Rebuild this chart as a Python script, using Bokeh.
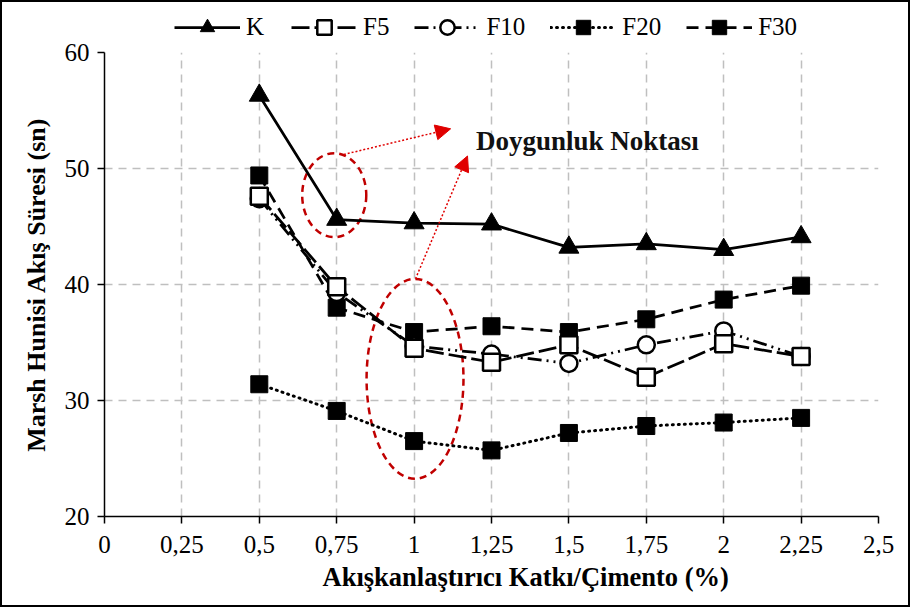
from bokeh.plotting import figure
from bokeh.layouts import column
from bokeh.models import Legend, LegendItem, FixedTicker, Arrow, NormalHead, Range1d, Label, Title
from bokeh.embed import file_html
from bokeh.resources import INLINE

# ---- data ----
x_vals = [0.5, 0.75, 1.0, 1.25, 1.5, 1.75, 2.0, 2.25]
K_vals = [56.3, 45.6, 45.3, 45.2, 43.2, 43.5, 43.0, 44.1]
F5_vals = [47.6, 39.8, 34.5, 33.3, 34.8, 32.0, 34.9, 33.8]
F10_vals = [47.4, 39.3, 34.7, 34.0, 33.2, 34.8, 36.0, 33.8]
F20_vals = [31.4, 29.1, 26.5, 25.7, 27.2, 27.8, 28.1, 28.5]
F30_vals = [49.4, 38.0, 35.9, 36.4, 35.9, 37.0, 38.7, 39.9]

x_ticks = [0, 0.25, 0.5, 0.75, 1, 1.25, 1.5, 1.75, 2, 2.25, 2.5]
x_tick_labels = ["0", "0,25", "0,5", "0,75", "1", "1,25", "1,5", "1,75", "2", "2,25", "2,5"]
y_ticks = [20, 30, 40, 50, 60]

x_title = "Akışkanlaştırıcı Katkı/Çimento (%)"
y_title = "Marsh Hunisi Akış Süresi (sn)"
note_text = "Doygunluk Noktası"

# annotation shapes (data coords)
ell_x = [0.742, 1.003]
ell_y = [47.7, 31.87]
ell_w = [0.207, 0.313]
ell_h = [7.24, 17.24]
arrows = [((0.773, 51.21), (1.118, 53.42)), ((1.0045, 40.49), (1.1725, 51.08))]

FONT = "Liberation Serif"
RED = "#C00000"

series = [
    ("F20", F20_vals, dict(line_width=3, line_dash="1 5", line_cap="round"),
     dict(marker="square", size=17, fill_color="black", line_color="black")),
    ("F30", F30_vals, dict(line_width=2.75, line_dash="12 7"),
     dict(marker="square", size=17, fill_color="black", line_color="black")),
    ("F10", F10_vals, dict(line_width=2.75, line_dash="14 5 2 5 2 5"),
     dict(marker="circle", size=17, fill_color="white", line_color="black", line_width=2.5)),
    ("F5", F5_vals, dict(line_width=2.75, line_dash="18 5"),
     dict(marker="square", size=17, fill_color="white", line_color="black", line_width=2.5)),
    ("K", K_vals, dict(line_width=2.75),
     dict(marker="triangle", size=20, fill_color="black", line_color="black")),
]
legend_order = ["K", "F5", "F10", "F20", "F30"]

# ---------------- main plot ----------------
p = figure(frame_width=774, frame_height=464, output_backend="svg", toolbar_location=None,
           x_range=Range1d(0, 2.5), y_range=Range1d(20, 60),
           min_border_left=102, min_border_right=30, min_border_top=13, min_border_bottom=89)
p.outline_line_color = None
p.background_fill_color = "white"
p.border_fill_color = "white"

p.xaxis.ticker = FixedTicker(ticks=x_ticks)
p.xaxis.major_label_overrides = {t: l for t, l in zip(x_ticks, x_tick_labels)}
p.yaxis.ticker = FixedTicker(ticks=y_ticks)
for ax in (p.xaxis[0], p.yaxis[0]):
    ax.axis_line_color = "black"
    ax.axis_line_width = 1.5
    ax.major_tick_line_color = "black"
    ax.major_tick_line_width = 1.5
    ax.major_tick_out = 7
    ax.major_tick_in = 0
    ax.minor_tick_line_color = None
    ax.major_label_text_font = FONT
    ax.major_label_text_font_size = "25px"
    ax.major_label_text_color = "black"
    ax.axis_label_text_font = FONT
    ax.axis_label_text_font_style = "bold"
    ax.axis_label_text_color = "black"
p.xaxis.major_label_standoff = 12
p.yaxis.axis_label = y_title
p.yaxis.axis_label_text_font_size = "26px"
p.yaxis.major_label_standoff = 8
p.yaxis.axis_label_standoff = 11

p.add_layout(Title(text=x_title, align="left", offset=218, text_font=FONT,
                   text_font_style="bold", text_font_size="26.5px", text_color="black",
                   standoff=8), "below")

for g in (p.xgrid[0], p.ygrid[0]):
    g.grid_line_color = "#BFBFBF"
    g.grid_line_dash = "8 6"
    g.grid_line_width = 1.5

p.ellipse(x=ell_x, y=ell_y, width=ell_w, height=ell_h, fill_color=None,
          line_color=RED, line_width=2.5, line_dash="7 5")
for (xs, ys), (xe, ye) in arrows:
    p.add_layout(Arrow(end=NormalHead(size=15, fill_color="#E00000", line_color="#E00000"),
                       x_start=xs, y_start=ys, x_end=xe, y_end=ye,
                       line_color="#E00000", line_width=1.5, line_dash="2 2"))
p.add_layout(Label(x=1.20, y=52.41, text=note_text, text_font=FONT, text_font_style="bold",
                   text_font_size="27px", text_color="#111111", text_baseline="alphabetic"))

for name, vals, lkw, mkw in series:
    p.line(x_vals, vals, line_color="black", **lkw)
    p.scatter(x_vals, vals, **mkw)

# ---------------- legend strip (series drawn out of its view; only the key shows) ----------------
leg = figure(width=906, height=37, output_backend="svg", toolbar_location=None,
             min_border=0, x_axis_location=None, y_axis_location=None,
             x_range=Range1d(100, 101), y_range=Range1d(100, 101))
leg.grid.visible = False
leg.outline_line_color = None
leg.background_fill_color = "white"
leg.border_fill_color = "white"

items = {}
for name, vals, lkw, mkw in series:
    lr = leg.line(x_vals, vals, line_color="black", **lkw)
    sr = leg.scatter(x_vals, vals, **mkw)
    items[name] = LegendItem(label=name, renderers=[lr, sr])

legend = Legend(items=[items[n] for n in legend_order], orientation="horizontal",
                location=(70, -6),
                label_text_font=FONT, label_text_font_size="25px", label_text_color="black",
                glyph_width=66, glyph_height=36, label_standoff=6, spacing=25,
                padding=0, margin=0, border_line_color=None, background_fill_alpha=0)
leg.add_layout(legend)

layout = column(leg, p, spacing=0, styles={"border": "2px solid black"})

open("out.html", "w").write(file_html(layout, INLINE))
